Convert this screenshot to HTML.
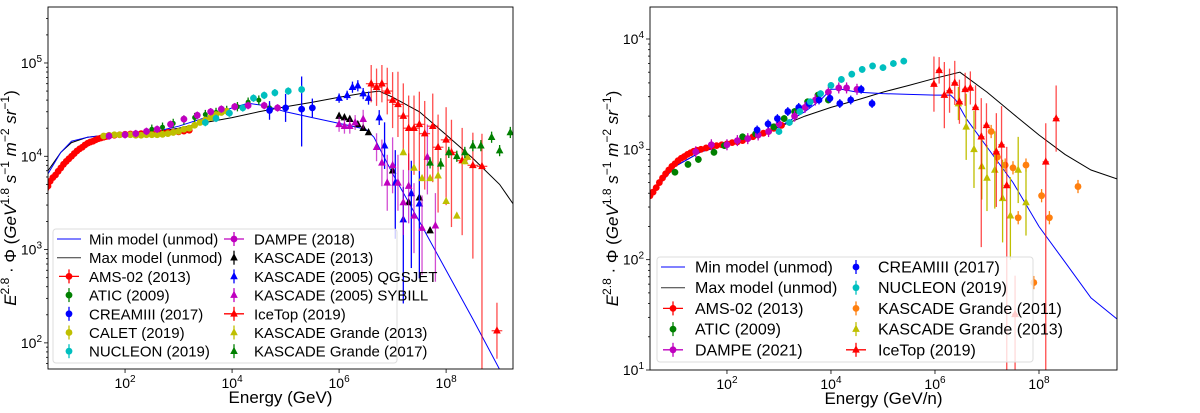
<!DOCTYPE html>
<html><head><meta charset="utf-8"><style>
html,body{margin:0;padding:0;background:#fff;width:1200px;height:413px;overflow:hidden;}
svg{display:block;font-family:"Liberation Sans","DejaVu Sans",sans-serif;}
</style></head><body>
<svg id="fig" width="1200" height="413" viewBox="0 0 1200 413" xmlns="http://www.w3.org/2000/svg"></svg>
<script>
// ---------- LEFT PANEL DATA (log10 E [GeV], flux) ----------
const maxL_E=[0.56,0.8,1,1.3,1.7,2,2.5,3,3.5,4,4.5,5,5.5,6,6.5,6.75,7,7.5,8,8.5,9,9.25];
const maxL_F=[7000,11000,14000,16000,17000,17500,18000,20000,23000,26000,30000,34000,38000,43000,48000,50000,43000,30000,17000,9500,5000,3100];
const minL_E=[0.56,0.8,1,1.3,1.7,2,2.5,3,3.5,4,4.3,4.6,5,5.5,6,6.5,6.65,7,7.5,8,8.5,9,9.25];
const minL_F=[6500,11000,14500,16000,17000,17500,18000,21000,26000,33000,37000,35000,30000,26000,22500,19500,16000,6500,2000,600,180,52,28];
const amsL_E=[0.52,0.56,0.6,0.65,0.7,0.75,0.8,0.85,0.9,0.95,1.0,1.05,1.1,1.15,1.2,1.25,1.3,1.35,1.4,1.45,1.5,1.55,1.6,1.65,1.7,1.8,1.9,2.0,2.1,2.2,2.3,2.4,2.5,2.6,2.7,2.8,2.9,3.0,3.1,3.2];
const amsL_F=[4500,4800,5400,5900,6300,6900,7500,8200,8800,9400,10000,10700,11400,12000,12500,13200,13800,14200,14500,15000,15400,15700,16000,16300,16500,16800,17000,17200,17300,17400,17500,17500,17500,17600,17800,18000,18200,18300,18600,19000];
const aticL_E=[2.5,2.7,2.9,3.1,3.3,3.5,3.7,3.9,4.1,4.3,4.5,4.7];
const aticL_F=[19500,20500,22500,24500,26000,28000,29500,31000,34000,38000,40000,33000];
const creamL_E=[4.7,5.0,5.3,5.5];
const creamL_F=[31000,33000,32000,33000];
const creamL_R=[0.1,0.15,0.4,0.1];
const caletL_E=[1.6,1.7,1.8,1.9,2.0,2.1,2.2,2.3,2.4,2.5,2.6,2.7,2.8,2.9,3.0,3.1,3.2,3.3,3.4,3.5,3.6,3.7,3.8,3.9];
const caletL_F=[16500,16800,17000,17000,17000,17000,16800,16800,17000,17000,17000,17200,17500,18000,18500,19500,20000,21500,23000,24500,26000,28000,29500,30500];
const nucL_E=[3.5,3.7,3.95,4.2,4.4,4.6,4.8,5.05,5.3];
const nucL_F=[23000,25500,29000,33000,42000,45000,48000,50000,52000];
const dampL_E=[1.7,2.0,2.2,2.4,2.6,2.85,3.1,3.35,3.6,3.8,4.05,4.3,4.6,4.85];
const dampL_F=[16500,17000,17500,18500,19500,22000,25000,27500,30000,32000,34000,35000,35000,33000];
const kas13L_E=[6.0,6.1,6.2,6.35,6.45,6.55,7.0,7.3,7.5,7.7];
const kas13L_F=[27000,26000,25000,22000,20000,18000,7000,3200,3600,1600];
const kasQL_E=[6.0,6.15,6.25,6.35,6.45,6.55,6.75,6.85,7.05,7.2,7.35,7.5];
const kasQL_F=[42000,45000,55000,57000,47000,42000,26000,13000,5200,2100,4000,3100];
const kasQL_R=[0.05,0.05,0.06,0.06,0.06,0.07,0.08,0.25,0.6,0.9,0.8,0.8];
const kasSL_E=[6.0,6.1,6.2,6.3,6.45,6.7,6.8,6.9,7.0,7.1,7.2,7.3,7.4,7.55,7.65,7.8];
const kasSL_F=[22000,21000,21000,23000,25000,12500,8500,5200,8000,5200,3200,4800,2300,1700,9800,1800];
const kasSL_R=[0.08,0.08,0.08,0.08,0.1,0.15,0.25,0.3,0.3,0.3,0.35,0.4,0.4,0.5,0.4,0.6];
const iceL_E=[6.6,6.7,6.8,6.9,7.0,7.1,7.2,7.3,7.4,7.5,7.6,7.75,7.85,8.0,8.1,8.3,8.5,8.67,8.95];
const iceL_F=[60000,55000,60000,50000,40000,36000,27000,20000,20000,22000,17500,21000,12500,15000,11000,9000,8000,7800,135];
const iceL_R=[0.2,0.2,0.2,0.25,0.3,0.35,0.4,0.45,0.5,0.5,0.6,0.6,0.7,0.7,0.8,0.8,1.0,3,0.3];
const kg13L_E=[7.2,7.4,7.55,7.7,7.85,8.0,8.2,8.35,8.4];
const kg13L_F=[11000,7500,5800,5800,6200,3300,2300,8800,9800];
const kg17L_E=[7.7,7.9,8.05,8.2,8.35,8.5,8.65,8.85,9.0,9.2];
const kg17L_F=[8500,8300,11000,10000,11000,13000,13000,16000,11500,18000];

// ---------- RIGHT PANEL DATA (log10 E [GeV/n], flux) ----------
const maxR_E=[0.52,1,1.5,2,2.5,3,3.5,4,4.5,5,5.5,6,6.48,7,7.5,8,8.5,9,9.5];
const maxR_F=[380,700,950,1100,1250,1600,2000,2400,2800,3300,3800,4400,5000,3300,2100,1350,900,650,540];
const minR_E=[0.52,1,1.5,2,2.5,3,3.5,3.8,4.0,4.2,4.5,5,5.5,6,6.3,6.4,6.6,7,7.5,8,8.5,9,9.5];
const minR_F=[380,700,950,1100,1250,1600,2200,2800,3500,3500,3300,3200,3150,3100,3100,2800,1900,1050,500,200,95,45,29];
const amsR_E=[0.52,0.58,0.64,0.7,0.76,0.82,0.88,0.94,1.0,1.06,1.12,1.18,1.24,1.3,1.36,1.42,1.5,1.6,1.7,1.8,1.9,2.0,2.1,2.2,2.3,2.4,2.5,2.6,2.7,2.8,2.9,3.05];
const amsR_F=[380,410,450,500,550,600,650,700,740,790,830,860,900,930,960,980,1000,1030,1060,1080,1100,1120,1150,1170,1200,1250,1300,1350,1400,1450,1550,1650];
const aticR_E=[1.0,1.25,1.45,1.75,1.95,2.3,2.55,2.9,3.1,3.3,3.55,3.75,3.95];
const aticR_F=[620,730,810,940,1080,1300,1380,1600,1900,2200,2700,3100,2800];
const dampR_E=[1.4,1.7,2.0,2.2,2.4,2.6,2.8,3.0,3.3,3.5,3.7,3.95,4.15,4.3,4.5];
const dampR_F=[950,1100,1100,1200,1250,1350,1450,1700,2000,2400,2800,3300,3600,3600,3500];
const creamR_E=[2.58,2.79,2.97,3.17,3.38,3.58,3.77,3.98,4.17,4.38,4.58,4.79];
const creamR_F=[1500,1700,1900,2200,2400,2600,2800,2900,2600,2800,3500,2600];
const nucR_E=[3.0,3.2,3.4,3.6,3.8,4.0,4.2,4.4,4.6,4.8,5.0,5.2,5.4];
const nucR_F=[1450,1750,2200,2700,3200,3800,4300,4800,5300,5700,5500,6000,6300];
const kg11R_E=[7.08,7.2,7.35,7.5,7.6,7.75,7.9,8.05,8.2,8.75];
const kg11R_F=[1450,850,720,680,240,720,62,380,240,460];
const kg13R_E=[6.45,6.6,6.75,6.9,7.0,7.15,7.3,7.45,7.6,7.75];
const kg13R_F=[2600,1600,1000,700,550,650,360,250,650,330];
const kg13R_R=[0.15,0.3,0.35,0.3,0.3,0.35,0.4,0.4,0.3,0.3];
const iceR_E=[5.98,6.08,6.18,6.28,6.38,6.47,6.58,6.68,6.78,6.89,6.99,7.18,7.28,7.38,7.54,8.13,8.33];
const iceR_F=[3900,5200,3100,3400,4000,2700,3500,3600,2400,1300,1650,950,1100,470,32,770,1900];
const iceR_R=[0.25,0.12,0.3,0.2,0.2,0.2,0.15,0.15,0.2,1,0.2,0.5,0.5,2,0.5,3,0.3];

// ---------- drawing ----------
const NS="http://www.w3.org/2000/svg";
const svg=document.getElementById('fig');
function mk(tag,attrs,parent){const e=document.createElementNS(NS,tag);for(const k in attrs)e.setAttribute(k,attrs[k]);(parent||svg).appendChild(e);return e;}
function makeAxes(p){
  p.sx=v=>p.x0+(v-p.lx0)*(p.x1-p.x0)/(p.lx1-p.lx0);
  p.sy=f=>p.y1-(Math.log10(f)-p.ly0)*(p.y1-p.y0)/(p.ly1-p.ly0);
  return p;
}
function drawFrame(p,g){
  for(let d=Math.floor(p.ly0);d<=Math.ceil(p.ly1);d++){
    for(let m=1;m<10;m++){
      const lv=d+Math.log10(m);
      if(lv<p.ly0-1e-6||lv>p.ly1+1e-6)continue;
      const y=p.sy(Math.pow(10,lv));
      const t=mk('line',{x1:p.x0,x2:p.x0-(m===1?4:2),y1:y,y2:y,stroke:'#000','stroke-width':0.8},g);
      
      
      if(m===1){
        const tx=mk('text',{x:p.x0-6,y:y+5,'text-anchor':'end','font-size':14,fill:'#000'},g);
        
        
        tx.innerHTML='10<tspan dy="-6" font-size="10">'+d+'</tspan>';
      }
    }
  }
  for(const d of p.xt){
    const x=p.sx(d);
    const t=mk('line',{x1:x,x2:x,y1:p.y1,y2:p.y1+4,stroke:'#000','stroke-width':0.8},g);
    
    
    const tx=mk('text',{x:x,y:p.y1+19,'text-anchor':'middle','font-size':14,fill:'#000'},g);
    
    
    tx.innerHTML='10<tspan dy="-6" font-size="10">'+d+'</tspan>';
  }
  const xt=mk('text',{x:(p.x0+p.x1)/2,y:p.y1+34,'text-anchor':'middle','font-size':17,fill:'#000'},g);
  
  
  xt.textContent=p.xlabel;
  const yt=mk('text',{x:0,y:0,'text-anchor':'middle','font-size':17,fill:'#000',transform:'translate('+(p.x0-32)+','+((p.y0+p.y1)/2+10)+') rotate(-90)'},g);
  
  
  yt.innerHTML='<tspan font-style="italic">E</tspan><tspan dy="-7" font-size="12">2.8</tspan><tspan dy="7"> · Φ (</tspan><tspan font-style="italic">GeV</tspan><tspan dy="-7" font-size="12">1.8</tspan><tspan dy="7" font-style="italic"> s</tspan><tspan dy="-7" font-size="12">−1</tspan><tspan dy="7" font-style="italic"> m</tspan><tspan dy="-7" font-size="12">−2</tspan><tspan dy="7" font-style="italic"> sr</tspan><tspan dy="-7" font-size="12">−1</tspan><tspan dy="7">)</tspan>';
}
function marker(g,type,x,y,col,r){
  let e;
  if(type==='o') e=mk('circle',{cx:x,cy:y,r:r||3.4,fill:col},g);
  else e=mk('path',{d:'M'+x+','+(y-4.5)+'L'+(x+3.8)+','+(y+2.8)+'L'+(x-3.8)+','+(y+2.8)+'Z',fill:col},g);
  return e;
}
function drawSeries(p,g,s){
  const sg=mk('g',{},g);
  
  
  const cg=mk('g',{'clip-path':'url(#'+p.clip+')'},sg);
  for(let i=0;i<s.E.length;i++){
    const x=p.sx(s.E[i]);const lf=Math.log10(s.F[i]);
    const r=s.R?s.R[i]:(s.r0||0.03);
    const ya=p.sy(Math.pow(10,lf+Math.min(r,0.35))), yb=p.sy(Math.pow(10,lf-r));
    const eb=mk('line',{x1:x,x2:x,y1:ya,y2:yb,stroke:s.c,'stroke-width':1.3,'stroke-opacity':s.eo||1},cg);
    
    
    if(s.xe){
      const y=p.sy(s.F[i]);
      const xb=mk('line',{x1:p.sx(s.E[i]-s.xe),x2:p.sx(s.E[i]+s.xe),y1:y,y2:y,stroke:s.c,'stroke-width':1.3,'stroke-opacity':s.eo||1},cg);
      
      
    }
    const m=marker(cg,s.m,x,p.sy(s.F[i]),s.c,s.sz);
    
    
  }
}
function drawLine(p,g,E,F,col,id){
  const d=E.map((e,i)=>(i?'L':'M')+p.sx(e).toFixed(1)+','+p.sy(F[i]).toFixed(1)).join('');
  const l=mk('path',{d:d,fill:'none',stroke:col,'stroke-width':1,'clip-path':'url(#'+p.clip+')'},g);
  
  
}
function drawLegend(p,g,items){
  const L=p.leg;
  const box=mk('rect',{x:L.x,y:L.y,width:L.w,height:L.h,rx:3,fill:'#fff','fill-opacity':0.8,stroke:'#ddd','stroke-width':1},g);
  
  
  items.forEach((it,i)=>{
    const col=i<L.n?0:1, row=i<L.n?i:i-L.n;
    const mx=L.cx[col], y=L.y+L.top+row*L.dy;
    const eg=mk('g',{},g);
    
    
    if(it.line){mk('line',{x1:mx-12,x2:mx+12,y1:y,y2:y,stroke:it.c,'stroke-width':1},eg);}
    else{
      mk('line',{x1:mx,x2:mx,y1:y-7,y2:y+7,stroke:it.c,'stroke-width':1.3},eg);
      if(it.xe) mk('line',{x1:mx-10,x2:mx+10,y1:y,y2:y,stroke:it.c,'stroke-width':1.3},eg);
      marker(eg,it.m,mx,y,it.c);
    }
    const t=mk('text',{x:mx+L.tx,y:y+5.5,'font-size':L.fs,fill:'#000'},eg);
    t.textContent=it.n;
  });
}
const defs=mk('defs',{});
function panel(p,lines,series,legItems){
  makeAxes(p);
  const cp=mk('clipPath',{id:p.clip},defs);
  mk('rect',{x:p.x0,y:p.y0,width:p.x1-p.x0,height:p.y1-p.y0},cp);
  const g=mk('g',{});
  
  
  lines.forEach(l=>drawLine(p,g,l[0],l[1],l[2],l[3]));
  series.forEach(s=>drawSeries(p,g,s));
  drawLegend(p,g,legItems);
  const fr=mk('rect',{x:p.x0,y:p.y0,width:p.x1-p.x0,height:p.y1-p.y0,fill:'none',stroke:'#000','stroke-width':0.9},g);
  
  
  drawFrame(p,g);
}
const RED='#ff0000',GRN='#008000',BLU='#0000ff',YEL='#bfbf00',CYN='#00bfbf',MAG='#bf00bf',BLK='#000',ORG='#ff7f0e';
const Lp={name:'left-panel',clip:'clipL',x0:48,x1:513,y0:7,y1:369,lx0:0.56,lx1:9.25,ly0:1.72,ly1:5.6,xt:[2,4,6,8],xlabel:'Energy (GeV)',
  leg:{x:53,y:229,w:344,h:134,n:7,top:10,dy:18.7,cx:[69,234],tx:20,fs:15}};
const sL=[
 {id:'ams02-2013',E:amsL_E,F:amsL_F,c:RED,m:'o',r0:0.01},
 {id:'atic-2009',E:aticL_E,F:aticL_F,c:GRN,m:'o',sz:2.5,r0:0.05},
 {id:'creamiii-2017',E:creamL_E,F:creamL_F,R:creamL_R,c:BLU,m:'o'},
 {id:'calet-2019',E:caletL_E,F:caletL_F,c:YEL,m:'o',r0:0.02},
 {id:'nucleon-2019',E:nucL_E,F:nucL_F,c:CYN,m:'o',r0:0.04},
 {id:'dampe-2018',E:dampL_E,F:dampL_F,c:MAG,m:'o',r0:0.04},
 {id:'kascade-2013',E:kas13L_E,F:kas13L_F,c:BLK,m:'^',r0:0.02},
 {id:'kascade-2005-qgsjet',E:kasQL_E,F:kasQL_F,R:kasQL_R,c:BLU,m:'^'},
 {id:'kascade-2005-sybill',E:kasSL_E,F:kasSL_F,R:kasSL_R,c:MAG,m:'^',eo:0.7},
 {id:'icetop-2019',E:iceL_E,F:iceL_F,R:iceL_R,c:RED,m:'^',xe:0.1,eo:0.7},
 {id:'kascade-grande-2013',E:kg13L_E,F:kg13L_F,c:YEL,m:'^',r0:0.03},
 {id:'kascade-grande-2017',E:kg17L_E,F:kg17L_F,c:GRN,m:'^',r0:0.06}
];
panel(Lp,[[maxL_E,maxL_F,BLK,'max-model-line'],[minL_E,minL_F,BLU,'min-model-line']],sL,[
 {n:'Min model (unmod)',c:BLU,line:1},{n:'Max model (unmod)',c:'#333',line:1},
 {n:'AMS-02 (2013)',c:RED,m:'o',xe:1},{n:'ATIC (2009)',c:GRN,m:'o'},{n:'CREAMIII (2017)',c:BLU,m:'o'},
 {n:'CALET (2019)',c:YEL,m:'o'},{n:'NUCLEON (2019)',c:CYN,m:'o'},
 {n:'DAMPE (2018)',c:MAG,m:'o',xe:1},{n:'KASCADE (2013)',c:BLK,m:'^'},{n:'KASCADE (2005) QGSJET',c:BLU,m:'^'},
 {n:'KASCADE (2005) SYBILL',c:MAG,m:'^'},{n:'IceTop (2019)',c:RED,m:'^',xe:1},
 {n:'KASCADE Grande (2013)',c:YEL,m:'^'},{n:'KASCADE Grande (2017)',c:GRN,m:'^'}
]);
const Rp={name:'right-panel',clip:'clipR',x0:650,x1:1117,y0:7,y1:370,lx0:0.52,lx1:9.5,ly0:1,ly1:4.29,xt:[2,4,6,8],xlabel:'Energy (GeV/n)',
  leg:{x:657,y:257,w:376,h:105,n:5,top:10,dy:20.7,cx:[673,856],tx:22,fs:16}};
const sR=[
 {id:'ams02-2013',E:amsR_E,F:amsR_F,c:RED,m:'o',r0:0.01},
 {id:'atic-2009',E:aticR_E,F:aticR_F,c:GRN,m:'o',r0:0.03},
 {id:'dampe-2021',E:dampR_E,F:dampR_F,c:MAG,m:'o',r0:0.05},
 {id:'creamiii-2017',E:creamR_E,F:creamR_F,c:BLU,m:'o',r0:0.04},
 {id:'nucleon-2019',E:nucR_E,F:nucR_F,c:CYN,m:'o',r0:0.03},
 {id:'kascade-grande-2011',E:kg11R_E,F:kg11R_F,c:ORG,m:'o',r0:0.06},
 {id:'kascade-grande-2013',E:kg13R_E,F:kg13R_F,R:kg13R_R,c:YEL,m:'^'},
 {id:'icetop-2019',E:iceR_E,F:iceR_F,R:iceR_R,c:RED,m:'^',xe:0.06,eo:0.7}
];
panel(Rp,[[maxR_E,maxR_F,BLK,'max-model-line'],[minR_E,minR_F,BLU,'min-model-line']],sR,[
 {n:'Min model (unmod)',c:BLU,line:1},{n:'Max model (unmod)',c:'#333',line:1},
 {n:'AMS-02 (2013)',c:RED,m:'o',xe:1},{n:'ATIC (2009)',c:GRN,m:'o'},{n:'DAMPE (2021)',c:MAG,m:'o',xe:1},
 {n:'CREAMIII (2017)',c:BLU,m:'o'},{n:'NUCLEON (2019)',c:CYN,m:'o'},{n:'KASCADE Grande (2011)',c:ORG,m:'o'},
 {n:'KASCADE Grande (2013)',c:YEL,m:'^'},{n:'IceTop (2019)',c:RED,m:'^',xe:1}
]);
</script>
</body></html>
